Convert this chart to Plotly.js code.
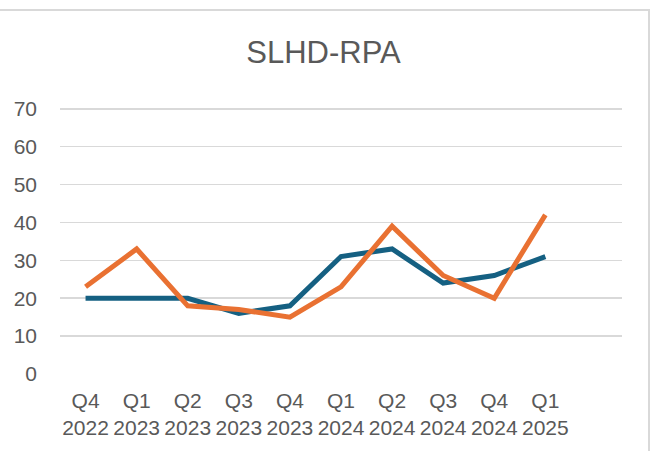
<!DOCTYPE html>
<html>
<head>
<meta charset="utf-8">
<script src="https://cdn.plot.ly/plotly-3.0.1.min.js"></script>
<style>
html,body{margin:0;padding:0;background:#fff;overflow:hidden;}
#wrap{position:relative;width:658px;height:451px;}
#chart{width:658px;height:451px;}
#frame{position:absolute;left:-4px;top:9px;width:652px;height:460px;border-top:2px solid #D9D9D9;border-right:2px solid #D9D9D9;pointer-events:none;}
</style>
</head>
<body>
<div id="wrap"><div id="chart"></div><div id="frame"></div></div>
<script>
const categories = ["Q4<br>2022","Q1<br>2023","Q2<br>2023","Q3<br>2023","Q4<br>2023","Q1<br>2024","Q2<br>2024","Q3<br>2024","Q4<br>2024","Q1<br>2025"];
const seriesBlue = [20,20,20,16,18,31,33,24,26,31];
const seriesOrange = [23,33,18,17,15,23,39,26,20,42];
const yTicks = [0,10,20,30,40,50,60,70];

const font = "Liberation Sans, Arial, sans-serif";
const traces = [
  {x: categories, y: seriesBlue, type: "scatter", mode: "lines", name: "Series 1",
   line: {color: "#156082", width: 5, shape: "linear"}},
  {x: categories, y: seriesOrange, type: "scatter", mode: "lines", name: "Series 2",
   line: {color: "#E97132", width: 5, shape: "linear"}}
];
const layout = {
  width: 658, height: 451,
  margin: {l: 60, r: 36, t: 105, b: 77},
  paper_bgcolor: "#fff", plot_bgcolor: "#fff",
  showlegend: false,
  title: {text: "SLHD-RPA", font: {family: font, size: 31, color: "#595959"},
          x: 323.5/658, xanchor: "center", xref: "container", y: 1 - 52/451, yanchor: "middle"},
  xaxis: {type: "category", range: [-0.5, 10.5], showgrid: false, zeroline: false, showline: false,
          ticks: "", tickfont: {family: font, size: 21, color: "#595959"}, ticklabelstandoff: 12,
          fixedrange: true},
  yaxis: {range: [0, 71], tickvals: yTicks, showgrid: true, gridcolor: "#D9D9D9", gridwidth: 1.5,
          zeroline: false, showline: false, ticks: "",
          tickfont: {family: font, size: 21, color: "#595959"}, ticklabelstandoff: 22, fixedrange: true}
};
Plotly.newPlot("chart", traces, layout, {displayModeBar: false, staticPlot: true});
</script>
</body>
</html>
